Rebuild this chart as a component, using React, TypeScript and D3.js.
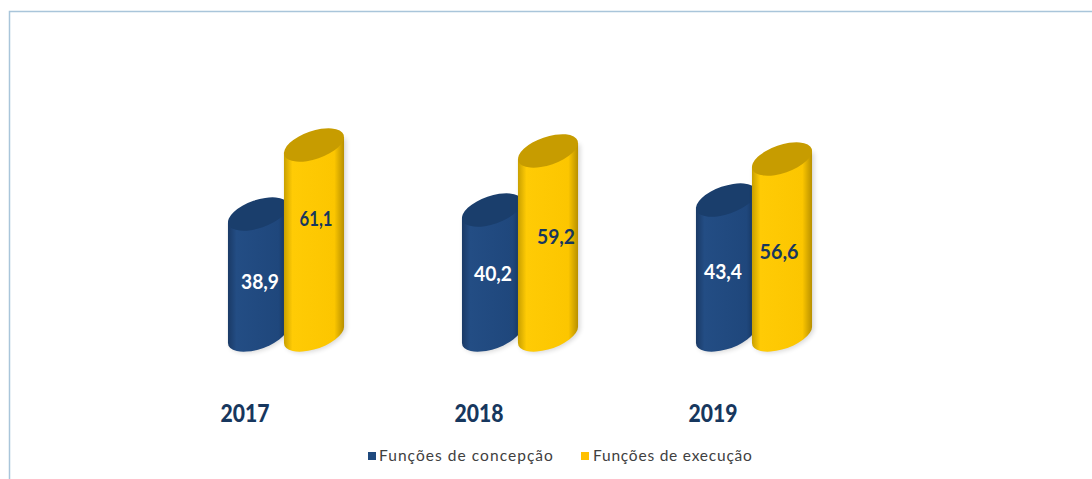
import React from 'react'
import { scaleBand, scaleLinear, path as d3path } from 'd3'

const years = ['2017', '2018', '2019']
const seriesNames = ['Funções de concepção', 'Funções de execução']
const concepcao = [38.9, 40.2, 43.4]
const execucao = [61.1, 59.2, 56.6]
const valueLabels = [['38,9', '40,2', '43,4'], ['61,1', '59,2', '56,6']]

// hand placed labels, dx from bar centre / y on the page
const labelDx = [[2, 1, -3], [2, 8, -3]]
const labelY = [[282, 274, 272], [219, 237, 252]]
const labelWidth = [[38, 38, 38], [33, 38, 39]]

const bodyColors = [['#1a3a66', '#234d84', '#1f477c', '#16355f'], ['#c9a000', '#ffcb05', '#fcc600', '#b89000']]
const capColors = ['#1a3e6c', '#c79c00']
const swatchColors = ['#1f497d', '#ffc000']
const labelColors = ['#ffffff', '#17375e']
const navy = '#17375e'

const legendX = [379, 593]
const legendSpacing = [1.05, 0.78]

const x0 = scaleBand<string>().domain(years).range([169, 871])
const x1 = scaleBand<string>().domain(['0', '1']).range([0, 112]).padding(0)
const y = scaleLinear().domain([0, 61.1]).range([335, 145])

// tilted ellipse for the ends of the cylinders
const phi = (-19 * Math.PI) / 180
const a = 31.4
const b = 14
const tExt = Math.atan2(-b * Math.sin(phi), a * Math.cos(phi))
const ex = a * Math.cos(tExt) * Math.cos(phi) - b * Math.sin(tExt) * Math.sin(phi)
const ey = a * Math.cos(tExt) * Math.sin(phi) + b * Math.sin(tExt) * Math.cos(phi)
const phiDeg = (phi * 180) / Math.PI

function cylinderBody(cx: number, top: number, bottom: number) {
  const p = d3path()
  p.moveTo(cx - ex, top - ey)
  p.lineTo(cx - ex, bottom - ey)
  const s = `${p.toString()} A${a} ${b} ${phiDeg} 0 0 ${cx + ex} ${bottom + ey} L${cx + ex} ${top + ey} Z`
  return s
}

const Cylinder = ({ cx, value, s }: { cx: number; value: number; s: number }) => {
  const top = y(value)
  const bottom = y(0)
  return (
    <g>
      <path d={cylinderBody(cx, top, bottom)} fill="#000" opacity={0.16} filter="url(#soft)" transform="translate(2,1)" />
      <path d={cylinderBody(cx, top, bottom)} fill={`url(#body${s})`} />
      <ellipse cx={cx} cy={top} rx={a} ry={b} transform={`rotate(${phiDeg} ${cx} ${top})`} fill={capColors[s]} />
    </g>
  )
}

const App = () => {
  const font = 'Lato, sans-serif'
  const series = [concepcao, execucao]
  const center = (yr: string, s: number) => (x0(yr) as number) + x0.bandwidth() / 2 - 56 + (x1(String(s)) as number) + 28

  return (
    <svg width={1092} height={479} style={{ position: 'absolute', left: 0, top: 0, background: '#fff' }}>
      <defs>
        {bodyColors.map((c, i) => (
          <linearGradient key={i} id={`body${i}`} x1="0" x2="1" y1="0" y2="0">
            <stop offset="0" stopColor={c[0]} />
            <stop offset="0.14" stopColor={c[1]} />
            <stop offset="0.84" stopColor={c[2]} />
            <stop offset="1" stopColor={c[3]} />
          </linearGradient>
        ))}
        <filter id="soft" x="-30%" y="-10%" width="160%" height="120%">
          <feGaussianBlur stdDeviation="2.5" />
        </filter>
      </defs>

      <path d="M9.5 479V11.5H1092" fill="none" stroke="#a9c5da" strokeWidth={1.5} />

      {years.map((yr, i) => (
        <g key={yr}>
          {series.map((vals, s) => (
            <Cylinder key={s} cx={center(yr, s)} value={vals[i]} s={s} />
          ))}
          {series.map((vals, s) => (
            <text key={s} x={center(yr, s) + labelDx[s][i]} y={labelY[s][i]} dy="0.35em" textAnchor="middle"
              fontFamily={font} fontWeight={700} fontSize={21} fill={labelColors[s]}
              textLength={labelWidth[s][i]} lengthAdjust="spacingAndGlyphs">
              {valueLabels[s][i]}
            </text>
          ))}
          <text x={center(yr, 0) + 30 - 43} y={422} textAnchor="middle" fontFamily={font} fontWeight={900} fontSize={24} fill={navy}
            textLength={49} lengthAdjust="spacingAndGlyphs">
            {yr}
          </text>
        </g>
      ))}

      {seriesNames.map((name, s) => (
        <g key={name}>
          <rect x={s === 0 ? 368 : 581} y={452} width={8} height={8} fill={swatchColors[s]} />
          <text x={legendX[s]} y={461} fontFamily={font} fontSize={15.5} letterSpacing={legendSpacing[s]} fill="#404040">
            {name}
          </text>
        </g>
      ))}
    </svg>
  )
}

export default App
